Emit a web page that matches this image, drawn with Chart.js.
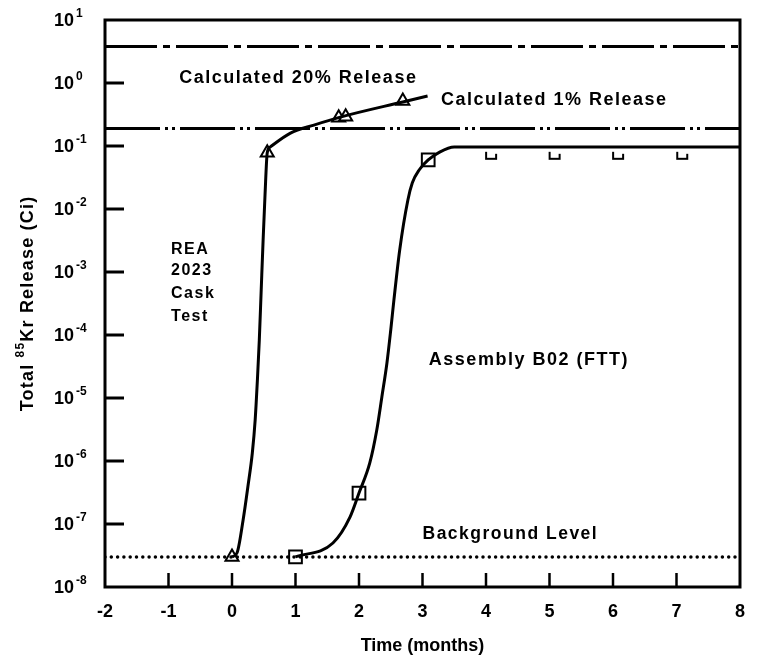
<!DOCTYPE html>
<html>
<head>
<meta charset="utf-8">
<title>Total 85Kr Release</title>
<script src="https://cdn.jsdelivr.net/npm/chart.js@4.4.0/dist/chart.umd.min.js"></script>
<style>
  html, body { margin: 0; padding: 0; background: #fff; }
  #wrap { width: 759px; height: 658px; }
</style>
</head>
<body>
<div id="wrap"><canvas id="krChart" width="759" height="658"></canvas></div>
<script>
// values (time in months, release in Ci)
const xTicks = [-2, -1, 0, 1, 2, 3, 4, 5, 6, 7, 8];
const yDecades = [1, 0, -1, -2, -3, -4, -5, -6, -7, -8];

const release20 = 3.8;        // Calculated 20% Release
const release1 = 0.19;        // Calculated 1% Release
const backgroundLevel = 3e-8; // Background Level

// REA 2023 cask test - measured points (triangles) and drawn curve
const reaMarkTime = [0, 0.555, 1.68, 1.79, 2.69];
const reaMarkVal = [3e-8, 0.078, 0.28, 0.29, 0.52];
const reaCurveTime = [0, 0.08, 0.175, 0.25, 0.32, 0.365, 0.40, 0.43, 0.46, 0.49, 0.52, 0.555, 0.6, 0.92, 1.29, 1.72, 2.69, 3.08];
const reaCurveVal = [3e-8, 3.5e-8, 1.16e-7, 3.9e-7, 1.34e-6, 4.5e-6, 1.93e-5, 8.3e-5, 5.2e-4, 3.2e-3, 0.0167, 0.078, 0.096, 0.16, 0.215, 0.29, 0.50, 0.62];

// Assembly B02 (FTT) - squares, open markers and drawn curve
const b02MarkTime = [1, 2, 3.09];
const b02MarkVal = [3e-8, 3.1e-7, 0.06];
const b02OpenTime = [4.08, 5.08, 6.08, 7.09];
const b02OpenVal = [0.07, 0.07, 0.07, 0.07];
const b02CurveTime = [1, 1.59, 1.86, 2, 2.17, 2.28, 2.36, 2.44, 2.5, 2.55, 2.64, 2.77, 2.84, 2.95, 3.09, 3.27, 3.5, 4, 5, 6, 7, 8];
const b02CurveVal = [3e-8, 5e-8, 1.3e-7, 3.1e-7, 9.3e-7, 3.1e-6, 1.04e-5, 3.6e-5, 1.2e-4, 3.6e-4, 2.2e-3, 0.0139, 0.026, 0.042, 0.06, 0.080, 0.096, 0.096, 0.096, 0.096, 0.096, 0.096];

const FONT = "'Liberation Sans', Arial, Helvetica, sans-serif";

function pts(xs, ys) {
    return xs.map((x, i) => ({ x: x, y: ys[i] }));
}

function flatLine(v) {
    return [{ x: xTicks[0], y: v }, { x: xTicks[xTicks.length - 1], y: v }];
}

// open "u" shaped marker used for the late B02 readings
function openMarker() {
    const c = document.createElement('canvas');
    c.width = 14;
    c.height = 10;
    const g = c.getContext('2d');
    g.strokeStyle = '#000';
    g.lineWidth = 2;
    g.beginPath();
    g.moveTo(2, 1);
    g.lineTo(2, 8);
    g.lineTo(12, 8);
    g.lineTo(12, 3);
    g.stroke();
    return c;
}

// text placed on the plot, in data units
const notes = [
    { text: 'Calculated 20% Release', x: -0.83, y: 1.2, size: 18 },
    { text: 'Calculated 1% Release', x: 3.29, y: 0.53, size: 18 },
    { text: 'REA', x: -0.96, y: 2.3e-3, size: 16 },
    { text: '2023', x: -0.96, y: 1.04e-3, size: 16 },
    { text: 'Cask', x: -0.96, y: 4.6e-4, size: 16 },
    { text: 'Test', x: -0.96, y: 1.93e-4, size: 16 },
    { text: 'Assembly B02 (FTT)', x: 3.1, y: 4.0e-5, size: 18 },
    { text: 'Background Level', x: 3.0, y: 6.9e-8, size: 17.5 }
];

const framePlugin = {
    id: 'framePlugin',
    afterDatasetsDraw(chart) {
        const ctx = chart.ctx;
        const a = chart.chartArea;
        const xs = chart.scales.x;
        const ys = chart.scales.y;
        ctx.save();
        ctx.strokeStyle = '#000';
        ctx.fillStyle = '#000';

        // box
        ctx.lineWidth = 3;
        ctx.strokeRect(a.left, a.top, a.right - a.left, a.bottom - a.top);

        // inward ticks
        yDecades.forEach(e => {
            if (e === yDecades[0] || e === yDecades[yDecades.length - 1]) return;
            const py = ys.getPixelForValue(Math.pow(10, e));
            ctx.beginPath();
            ctx.moveTo(a.left, py);
            ctx.lineTo(a.left + 19, py);
            ctx.stroke();
        });
        ctx.lineWidth = 2.5;
        xTicks.forEach(t => {
            if (t === xTicks[0] || t === xTicks[xTicks.length - 1]) return;
            const px = xs.getPixelForValue(t);
            ctx.beginPath();
            ctx.moveTo(px, a.bottom);
            ctx.lineTo(px, a.bottom - 14);
            ctx.stroke();
        });

        // y tick labels as 10 with superscript
        ctx.textBaseline = 'middle';
        yDecades.forEach(e => {
            const py = ys.getPixelForValue(Math.pow(10, e));
            ctx.font = 'bold 18px ' + FONT;
            ctx.textAlign = 'right';
            ctx.fillText('10', a.left - 31, py + 1);
            ctx.font = 'bold 12px ' + FONT;
            ctx.textAlign = 'left';
            ctx.fillText(e < 0 ? '-' + (-e) : String(e), a.left - 29, py - 6);
        });

        // notes
        ctx.textAlign = 'left';
        ctx.letterSpacing = '1.5px';
        notes.forEach(n => {
            ctx.font = 'bold ' + n.size + 'px ' + FONT;
            ctx.fillText(n.text, xs.getPixelForValue(n.x), ys.getPixelForValue(n.y));
        });

        // y axis title with superscript mass number
        ctx.letterSpacing = '1.2px';
        ctx.translate(28, (a.top + a.bottom) / 2);
        ctx.rotate(-Math.PI / 2);
        const parts = [
            { t: 'Total ', f: 'bold 18px ', dy: 0 },
            { t: '85', f: 'bold 12px ', dy: -7 },
            { t: 'Kr Release (Ci)', f: 'bold 18px ', dy: 0 }
        ];
        let total = 0;
        parts.forEach(p => { ctx.font = p.f + FONT; total += ctx.measureText(p.t).width; });
        let cx = -total / 2;
        parts.forEach(p => {
            ctx.font = p.f + FONT;
            ctx.fillText(p.t, cx, p.dy);
            cx += ctx.measureText(p.t).width;
        });
        ctx.restore();
    }
};

try {
    const canvas = document.getElementById('krChart');
    const ctx = canvas.getContext('2d');

    new Chart(ctx, {
        type: 'scatter',
        data: {
            datasets: [
                {
                    label: 'Calculated 20% Release',
                    data: flatLine(release20),
                    showLine: true,
                    borderColor: '#000',
                    borderWidth: 3,
                    borderDash: [52, 6, 7, 6],
                    pointRadius: 0
                },
                {
                    label: 'Calculated 1% Release',
                    data: flatLine(release1),
                    showLine: true,
                    borderColor: '#000',
                    borderWidth: 3,
                    borderDash: [55, 5, 3, 4, 3, 5],
                    pointRadius: 0
                },
                {
                    label: 'Background Level',
                    data: flatLine(backgroundLevel),
                    showLine: true,
                    borderColor: '#000',
                    borderWidth: 3.5,
                    borderDash: [0, 6.3],
                    borderCapStyle: 'round',
                    pointRadius: 0
                },
                {
                    label: 'REA 2023 curve',
                    data: pts(reaCurveTime, reaCurveVal),
                    showLine: true,
                    borderColor: '#000',
                    borderWidth: 3,
                    cubicInterpolationMode: 'monotone',
                    pointRadius: 0
                },
                {
                    label: 'B02 curve',
                    data: pts(b02CurveTime, b02CurveVal),
                    showLine: true,
                    borderColor: '#000',
                    borderWidth: 3,
                    cubicInterpolationMode: 'monotone',
                    pointRadius: 0
                },
                {
                    label: 'REA 2023 Cask Test',
                    data: pts(reaMarkTime, reaMarkVal),
                    pointStyle: 'triangle',
                    pointRadius: 7.5,
                    pointBackgroundColor: '#fff',
                    pointBorderColor: '#000',
                    pointBorderWidth: 2
                },
                {
                    label: 'Assembly B02 (FTT)',
                    data: pts(b02MarkTime, b02MarkVal),
                    pointStyle: 'rect',
                    pointRadius: 9,
                    pointBackgroundColor: '#fff',
                    pointBorderColor: '#000',
                    pointBorderWidth: 2
                },
                {
                    label: 'Assembly B02 (FTT) later',
                    data: pts(b02OpenTime, b02OpenVal),
                    pointStyle: openMarker(),
                    pointRadius: 6
                }
            ]
        },
        options: {
            responsive: false,
            animation: false,
            devicePixelRatio: 1,
            layout: {
                padding: { left: 105, top: 20, right: 10, bottom: 0 }
            },
            plugins: {
                legend: { display: false },
                tooltip: { enabled: false }
            },
            scales: {
                x: {
                    type: 'linear',
                    min: -2,
                    max: 8,
                    afterFit: function(scale) { scale.height = 71; },
                    afterBuildTicks: function(scale) {
                        scale.ticks = xTicks.map(v => ({ value: v }));
                    },
                    grid: { display: false, drawTicks: false },
                    border: { display: false },
                    ticks: {
                        color: '#000',
                        padding: 14,
                        maxRotation: 0,
                        font: { family: FONT, size: 18, weight: 'bold' }
                    },
                    title: {
                        display: true,
                        text: 'Time (months)',
                        color: '#000',
                        padding: { top: 0, bottom: 1 },
                        font: { family: FONT, size: 18, weight: 'bold' }
                    }
                },
                y: {
                    type: 'logarithmic',
                    display: false,
                    min: 1e-8,
                    max: 10
                }
            }
        },
        plugins: [framePlugin]
    });
} catch (chartError) {
    console.error('[Chart] error:', chartError);
}
</script>
</body>
</html>
